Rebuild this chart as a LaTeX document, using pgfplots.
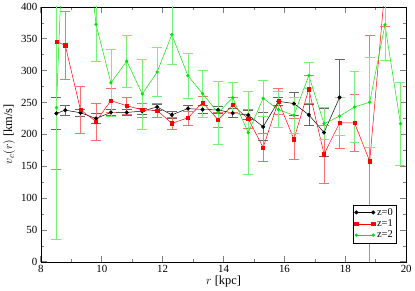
\documentclass[border=0pt]{standalone}
\usepackage{fontspec}
\setmainfont{Liberation Serif}
\usepackage{pgfplots}
\pgfplotsset{compat=1.18}
\definecolor{gr}{RGB}{0,230,0}
\definecolor{grbar}{RGB}{120,240,120}
\definecolor{rdbar}{RGB}{255,110,110}
\begin{document}
\begin{tikzpicture}
\begin{axis}[
  scale only axis, width=367bp, height=256bp,
  xmin=8, xmax=20, ymin=0, ymax=400,
  xtick={8,10,...,20}, minor x tick num=1,
  ytick={0,50,...,400}, minor y tick num=1,
  tick align=inside, major tick length=6bp, minor tick length=3bp,
  tick style={gray, line width=0.8pt},
  /pgf/number format/assume math mode=true,
  ticklabel style={font=\fontsize{11}{12}\selectfont},
  xlabel={$r$ [kpc]}, ylabel={$v_c(r)$ [km/s]},
  label style={font=\fontsize{12.5}{13}\selectfont},
  xlabel style={yshift=4bp}, ylabel style={yshift=-1bp},
  legend style={at={(0.973,0.074)}, anchor=south east, font=\fontsize{10.5}{10.5}\selectfont, draw=black, inner sep=1.5pt, row sep=-1pt},
  legend cell align=left,
  legend image code/.code={\draw[mark repeat=2,mark phase=1] plot coordinates {(0bp,0bp) (8.5bp,0bp) (17bp,0bp)};},
  error bars/y dir=both, error bars/y explicit,
  error bars/error bar style={line width=0.6pt},
  error bars/error mark options={rotate=90, mark size=5bp, line width=0.6pt},
]
\addplot[black, line width=0.5pt, mark=*, mark size=1.8bp,
  error bars/error bar style={black!60, line width=0.6pt},
  error bars/error mark options={rotate=90, mark size=5bp, black!60, line width=0.6pt}]
  table[x=r, y=v, y error=e] {
r v e
8.51 233 25
8.8 238 8
9.3 234 5
9.81 225 8
10.3 234.5 5
10.82 234.5 5
11.33 236.5 5
11.82 243 5
12.3 230.7 5
12.83 240.6 5
13.31 239 6
13.82 238.5 5
14.3 233.4 7
14.81 230.3 7
15.3 212 22
15.8 252 7
16.31 248.4 18
16.8 230.7 17
17.3 203 38
17.81 258 60
};
\addlegendentry{z=0}
\addplot[red, line width=0.5pt, mark=square*, mark size=1.6bp,
  error bars/error bar style={rdbar, line width=0.6pt},
  error bars/error mark options={rotate=90, mark size=5bp, rdbar, line width=0.6pt}]
  table[x=r, y=v, y error=e] {
r v e
8.51 345.6 200
8.8 340 54
9.3 238.5 37
9.81 220.5 29
10.3 253 19
10.82 245 14
11.33 238.5 11
11.82 237.5 11
12.3 217.4 10
12.83 226 11
13.31 250 10
13.82 223 12
14.3 246.3 12
14.81 224.5 15
15.3 179.5 22
15.8 252 20
16.31 192.5 32
16.8 271 22
17.3 169 45
17.81 218 40
18.3 218 45
18.8 158 197
19.3 430 60
};
\addlegendentry{z=1}
\addplot[gr, line width=0.5pt, mark=*, mark size=1.4bp,
  error bars/error bar style={grbar, line width=0.6pt},
  error bars/error mark options={rotate=90, mark size=5bp, grbar, line width=0.6pt}]
  table[x=r, y=v, y error=e] {
r v e
8.51 242 206
8.8 600 60
9.3 600 60
9.81 372.6 58
10.3 281 52
10.82 315 41
11.33 263.4 55
11.82 298 38
12.3 356.5 47
12.83 292 36
13.31 264 37
13.82 234 49
14.3 257.7 24
14.81 202.8 65
15.3 256.7 28
15.8 239 28
16.31 230 29
16.8 292.4 20
17.3 216.8 25
17.81 228.7 30
18.3 243 56
18.8 250.5 70
19.3 372 56
19.81 216.8 65
};
\addlegendentry{z=2}
\end{axis}
\end{tikzpicture}
\end{document}
